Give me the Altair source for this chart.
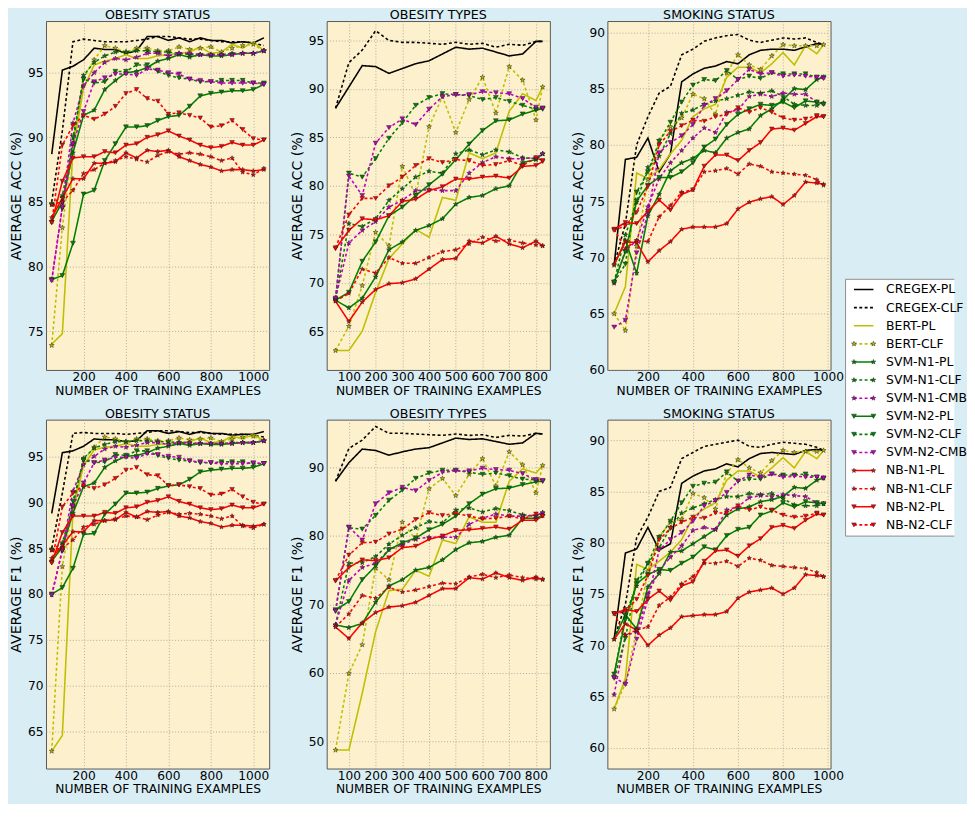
import altair as alt
import pandas as pd

SERIES = ["CREGEX-PL", "CREGEX-CLF", "BERT-PL", "BERT-CLF",
          "SVM-N1-PL", "SVM-N1-CLF", "SVM-N1-CMB",
          "SVM-N2-PL", "SVM-N2-CLF", "SVM-N2-CMB",
          "NB-N1-PL", "NB-N1-CLF", "NB-N2-PL", "NB-N2-CLF"]

X_STATUS = [50, 100, 150, 200, 250, 300, 350, 400, 450, 500, 550, 600, 650, 700,
            750, 800, 850, 900, 950, 1000, 1050]
X_TYPES = [50, 100, 150, 200, 250, 300, 350, 400, 450, 500, 550, 600, 650, 700,
           750, 800, 825]
X_SMOKING = [50, 100, 150, 200, 250, 300, 350, 400, 450, 500, 550, 600, 650, 700,
             750, 800, 850, 900, 950, 980]

ACC_STATUS = {
    "CREGEX-PL": [88.7, 95.2, 95.5, 96.0, 96.9, 96.8, 96.8, 96.5, 96.7, 97.8, 97.8, 97.5, 97.7, 97.4, 97.7, 97.5, 97.5, 97.3, 97.4, 97.3, 97.7],
    "CREGEX-CLF": [85.0, 90.5, 97.4, 97.6, 97.5, 97.4, 97.4, 97.4, 97.5, 97.6, 97.8, 97.8, 97.7, 97.6, 97.6, 97.5, 97.4, 97.4, 97.4, 97.3, 97.1],
    "BERT-PL": [74.0, 74.8, 89.0, 93.8, 95.6, 95.9, 96.1, 96.4, 96.1, 96.1, 96.3, 96.4, 96.5, 96.6, 97.0, 96.5, 96.6, 97.2, 96.9, 97.4, 96.7],
    "BERT-CLF": [73.9, 83.0, 89.5, 94.6, 96.0, 97.1, 96.9, 96.6, 96.9, 96.9, 96.7, 96.7, 97.0, 96.8, 96.9, 97.0, 96.6, 96.9, 97.1, 97.2, 96.7],
    "SVM-N1-PL": [83.5, 85.0, 88.8, 91.7, 92.1, 93.7, 94.4, 95.0, 95.1, 95.4, 95.9, 96.1, 96.4, 96.2, 96.4, 96.3, 96.3, 96.4, 96.5, 96.5, 96.7],
    "SVM-N1-CLF": [84.8, 85.5, 89.5, 94.8, 95.8, 96.3, 96.6, 96.6, 96.7, 96.7, 96.6, 96.6, 96.5, 96.4, 96.4, 96.4, 96.4, 96.5, 96.5, 96.5, 96.7],
    "SVM-N1-CMB": [79.0, 84.6, 91.1, 94.0, 95.0, 95.8, 96.1, 96.0, 96.2, 96.5, 96.5, 96.3, 96.5, 96.5, 96.4, 96.4, 96.4, 96.4, 96.5, 96.5, 96.7],
    "SVM-N2-PL": [79.0, 79.3, 81.8, 85.6, 85.9, 88.2, 89.5, 90.8, 90.8, 90.9, 91.3, 91.6, 91.7, 92.4, 93.2, 93.4, 93.5, 93.6, 93.6, 93.7, 94.1],
    "SVM-N2-CLF": [84.8, 84.5, 90.0, 94.5, 94.2, 94.3, 95.1, 95.1, 95.6, 95.6, 95.1, 94.8, 94.6, 94.5, 94.3, 94.3, 94.4, 94.4, 94.4, 94.2, 94.2],
    "SVM-N2-CMB": [78.9, 84.6, 89.5, 92.0, 94.3, 94.6, 94.9, 94.9, 94.8, 95.3, 95.2, 95.0, 94.9, 94.5, 94.4, 94.3, 94.2, 94.2, 94.2, 94.2, 94.1],
    "NB-N1-PL": [83.8, 85.3, 86.8, 86.8, 88.0, 88.0, 88.1, 88.8, 88.4, 89.0, 88.9, 89.0, 88.5, 88.2, 87.9, 87.7, 87.4, 87.5, 87.5, 87.4, 87.5],
    "NB-N1-CLF": [84.8, 85.0, 85.9, 87.2, 87.5, 88.0, 88.2, 88.5, 88.3, 88.1, 88.6, 88.9, 88.7, 88.8, 88.7, 88.5, 88.2, 88.4, 87.3, 87.1, 87.6],
    "NB-N2-PL": [83.4, 86.6, 88.4, 88.5, 88.5, 88.9, 88.8, 89.4, 89.5, 90.0, 90.2, 90.5, 90.1, 89.8, 89.4, 89.2, 89.3, 89.6, 89.4, 89.4, 89.8],
    "NB-N2-CLF": [83.4, 89.4, 90.9, 91.7, 91.4, 91.8, 92.4, 93.4, 93.7, 93.0, 92.8, 91.8, 91.9, 91.7, 91.5, 90.8, 90.9, 91.3, 90.6, 89.9, 89.8],
}

F1_STATUS = {
    "CREGEX-PL": [88.8, 95.4, 95.6, 96.1, 96.9, 96.8, 96.8, 96.6, 96.7, 97.8, 97.8, 97.5, 97.7, 97.4, 97.7, 97.5, 97.5, 97.3, 97.4, 97.4, 97.7],
    "CREGEX-CLF": [85.0, 91.0, 97.5, 97.6, 97.5, 97.5, 97.5, 97.4, 97.5, 97.6, 97.8, 97.8, 97.7, 97.6, 97.6, 97.5, 97.4, 97.4, 97.4, 97.3, 97.1],
    "BERT-PL": [62.9, 64.6, 89.0, 94.0, 95.7, 96.0, 96.1, 96.4, 96.1, 96.1, 96.3, 96.4, 96.5, 96.6, 97.0, 96.5, 96.6, 97.2, 96.9, 97.4, 96.7],
    "BERT-CLF": [62.9, 83.0, 89.5, 94.6, 96.0, 97.1, 96.9, 96.6, 96.9, 96.9, 96.7, 96.7, 97.0, 96.8, 96.9, 97.0, 96.6, 96.9, 97.1, 97.2, 96.7],
    "SVM-N1-PL": [83.6, 85.1, 88.8, 91.7, 92.1, 93.8, 94.5, 95.0, 95.1, 95.4, 95.9, 96.1, 96.4, 96.2, 96.4, 96.3, 96.3, 96.4, 96.5, 96.5, 96.7],
    "SVM-N1-CLF": [84.8, 85.6, 89.6, 94.8, 95.9, 96.3, 96.6, 96.6, 96.7, 96.7, 96.6, 96.6, 96.5, 96.4, 96.4, 96.4, 96.4, 96.5, 96.5, 96.5, 96.7],
    "SVM-N1-CMB": [79.9, 84.8, 91.2, 94.1, 95.0, 95.8, 96.1, 96.0, 96.2, 96.5, 96.5, 96.3, 96.5, 96.5, 96.4, 96.4, 96.4, 96.4, 96.5, 96.5, 96.7],
    "SVM-N2-PL": [80.0, 80.7, 82.8, 86.5, 86.6, 88.7, 89.8, 91.0, 91.0, 91.1, 91.5, 91.8, 91.9, 92.5, 93.3, 93.5, 93.6, 93.7, 93.7, 93.8, 94.2],
    "SVM-N2-CLF": [84.8, 84.7, 90.1, 94.6, 94.3, 94.4, 95.2, 95.1, 95.6, 95.6, 95.1, 94.8, 94.6, 94.5, 94.3, 94.3, 94.4, 94.4, 94.4, 94.2, 94.2],
    "SVM-N2-CMB": [79.9, 84.8, 89.6, 92.1, 94.3, 94.6, 94.9, 94.9, 94.8, 95.3, 95.2, 95.0, 94.9, 94.5, 94.4, 94.3, 94.2, 94.2, 94.2, 94.3, 94.2],
    "NB-N1-PL": [83.9, 85.3, 86.8, 86.8, 88.0, 88.0, 88.1, 88.9, 88.4, 89.0, 88.9, 89.0, 88.5, 88.3, 87.9, 87.7, 87.3, 87.5, 87.5, 87.4, 87.6],
    "NB-N1-CLF": [84.8, 85.0, 85.9, 87.3, 87.6, 88.0, 88.2, 88.5, 88.4, 88.1, 88.6, 88.9, 88.7, 88.8, 88.7, 88.5, 88.2, 88.5, 87.4, 87.2, 87.6],
    "NB-N2-PL": [83.4, 86.7, 88.5, 88.5, 88.5, 88.9, 88.8, 89.4, 89.5, 90.0, 90.2, 90.6, 90.1, 89.8, 89.4, 89.2, 89.3, 89.7, 89.4, 89.4, 89.8],
    "NB-N2-CLF": [83.4, 89.5, 91.0, 91.8, 91.5, 91.9, 92.6, 93.5, 93.8, 93.0, 92.9, 91.8, 91.9, 91.7, 91.5, 90.8, 90.9, 91.4, 90.6, 90.0, 89.8],
}

ACC_TYPES = {
    "CREGEX-PL": [88.0, 90.2, 92.4, 92.3, 91.6, 92.1, 92.6, 92.9, 93.6, 94.3, 94.1, 94.2, 93.8, 93.4, 93.6, 94.9, 94.9],
    "CREGEX-CLF": [88.0, 92.7, 94.0, 96.0, 95.0, 94.8, 94.8, 94.7, 94.6, 94.8, 94.6, 94.7, 94.3, 94.6, 94.5, 94.9, 94.9],
    "BERT-PL": [63.0, 63.0, 65.0, 69.0, 72.5, 74.0, 75.5, 74.7, 78.8, 78.5, 83.4, 82.8, 83.4, 87.7, 89.5, 88.8, 90.2],
    "BERT-CLF": [63.0, 65.5, 69.7, 75.2, 73.8, 82.0, 79.0, 86.1, 89.2, 85.5, 88.9, 91.2, 87.5, 92.3, 90.9, 86.8, 90.2],
    "SVM-N1-PL": [68.2, 67.4, 68.4, 70.6, 73.4, 74.2, 75.4, 75.9, 76.6, 78.1, 78.8, 79.0, 79.7, 80.0, 82.4, 82.7, 83.3],
    "SVM-N1-CLF": [68.3, 76.1, 75.8, 76.6, 78.5, 79.7, 80.9, 81.5, 81.3, 83.3, 83.7, 83.2, 83.7, 83.5, 82.9, 82.8, 83.3],
    "SVM-N1-CMB": [68.4, 74.1, 75.4, 76.3, 77.8, 78.5, 79.5, 79.6, 79.5, 79.5, 81.3, 82.4, 83.0, 82.8, 82.8, 82.9, 83.3],
    "SVM-N2-PL": [68.2, 69.0, 72.2, 74.2, 76.9, 77.8, 79.0, 80.1, 81.2, 82.7, 84.3, 85.7, 86.7, 86.8, 87.4, 87.8, 88.0],
    "SVM-N2-CLF": [68.3, 81.3, 80.9, 82.8, 84.9, 86.5, 88.3, 89.1, 89.5, 89.4, 89.3, 88.9, 89.1, 88.7, 88.3, 87.9, 87.9],
    "SVM-N2-CMB": [68.4, 81.0, 79.0, 84.4, 86.0, 86.9, 86.3, 87.9, 89.2, 89.4, 89.4, 89.7, 89.6, 89.5, 89.0, 88.1, 88.0],
    "NB-N1-PL": [68.1, 66.0, 68.0, 69.3, 69.9, 70.0, 70.4, 71.4, 72.4, 72.5, 74.3, 74.1, 74.8, 74.0, 73.6, 74.3, 73.8],
    "NB-N1-CLF": [68.1, 68.9, 71.4, 71.0, 72.6, 72.0, 72.0, 72.6, 73.2, 73.4, 74.0, 74.7, 74.3, 74.4, 74.1, 73.9, 73.8],
    "NB-N2-PL": [73.5, 75.4, 76.6, 76.5, 76.9, 78.4, 78.6, 79.5, 79.9, 80.7, 80.7, 80.9, 81.0, 80.8, 82.0, 82.1, 82.5],
    "NB-N2-CLF": [73.6, 77.0, 78.7, 78.7, 80.0, 80.9, 82.1, 82.8, 82.4, 82.7, 82.6, 82.1, 82.2, 82.6, 82.1, 82.9, 82.6],
}

F1_TYPES = {
    "CREGEX-PL": [88.0, 90.7, 92.7, 92.5, 91.8, 92.3, 92.7, 92.9, 93.6, 94.3, 94.1, 94.2, 93.8, 93.4, 93.6, 95.0, 94.9],
    "CREGEX-CLF": [88.0, 92.8, 94.0, 96.0, 95.0, 95.0, 94.9, 94.8, 94.7, 94.9, 94.7, 94.8, 94.4, 94.7, 94.6, 95.0, 94.9],
    "BERT-PL": [48.7, 48.7, 57.0, 66.0, 72.0, 72.2, 75.0, 74.1, 79.4, 78.9, 82.8, 82.0, 82.0, 88.0, 89.8, 89.2, 90.3],
    "BERT-CLF": [48.7, 59.9, 64.1, 75.3, 73.6, 82.0, 79.5, 86.9, 88.4, 85.9, 89.0, 91.3, 87.3, 92.3, 90.4, 86.3, 90.3],
    "SVM-N1-PL": [67.0, 66.6, 67.2, 70.3, 72.7, 73.6, 75.0, 75.4, 76.5, 78.0, 79.0, 79.2, 79.8, 80.1, 82.6, 82.6, 83.0],
    "SVM-N1-CLF": [67.0, 76.0, 76.1, 77.0, 78.8, 80.1, 81.2, 82.1, 81.9, 83.8, 84.1, 83.5, 84.0, 83.7, 83.1, 82.9, 83.4],
    "SVM-N1-CMB": [67.0, 73.5, 75.4, 76.0, 78.0, 78.7, 79.6, 79.8, 79.8, 79.8, 81.7, 82.6, 83.2, 82.9, 82.9, 83.0, 83.4],
    "SVM-N2-PL": [69.2, 70.4, 73.6, 75.6, 78.0, 79.0, 79.7, 80.9, 81.7, 82.9, 84.7, 86.1, 86.9, 87.0, 87.5, 87.9, 88.0],
    "SVM-N2-CLF": [69.0, 81.2, 81.0, 83.0, 85.2, 86.7, 88.4, 89.2, 89.6, 89.6, 89.3, 89.0, 89.2, 88.8, 88.3, 88.2, 88.0],
    "SVM-N2-CMB": [69.0, 81.3, 79.4, 84.7, 86.3, 87.1, 86.6, 88.1, 89.3, 89.5, 89.5, 89.9, 89.7, 89.6, 89.1, 88.2, 88.1],
    "NB-N1-PL": [66.7, 65.0, 67.3, 68.8, 69.6, 69.8, 70.3, 71.3, 72.3, 72.3, 73.9, 73.7, 74.6, 73.9, 73.5, 74.0, 73.6],
    "NB-N1-CLF": [66.7, 68.6, 71.3, 70.9, 72.5, 71.8, 72.1, 72.6, 73.1, 73.0, 74.0, 74.4, 73.9, 74.3, 73.9, 73.7, 73.7],
    "NB-N2-PL": [73.4, 75.4, 76.5, 76.4, 76.8, 78.3, 78.5, 79.5, 80.0, 80.8, 80.9, 81.1, 81.3, 81.0, 82.3, 82.3, 82.9],
    "NB-N2-CLF": [73.5, 77.2, 79.0, 79.1, 80.3, 81.0, 82.4, 83.4, 83.0, 83.3, 82.9, 82.5, 82.6, 82.9, 82.5, 83.2, 82.9],
}

ACC_SMOKING = {
    "CREGEX-PL": [69.3, 78.7, 78.9, 80.6, 77.6, 79.2, 85.6, 86.3, 86.8, 87.0, 87.4, 87.2, 88.0, 88.4, 88.5, 88.5, 88.4, 88.7, 89.0, 88.9],
    "CREGEX-CLF": [69.3, 73.0, 80.0, 82.5, 84.6, 85.2, 88.0, 88.5, 89.2, 89.5, 89.7, 89.8, 89.3, 89.1, 89.3, 89.5, 89.4, 89.5, 89.1, 88.9],
    "BERT-PL": [65.0, 67.4, 77.5, 77.0, 77.8, 79.2, 80.4, 82.5, 83.2, 83.6, 86.0, 86.9, 86.9, 86.4, 87.2, 88.2, 87.1, 88.8, 88.1, 88.9],
    "BERT-CLF": [65.0, 63.5, 71.0, 76.9, 80.4, 81.6, 82.4, 84.5, 84.1, 82.7, 86.4, 88.0, 87.1, 86.7, 87.9, 88.9, 88.8, 88.8, 88.8, 88.9],
    "SVM-N1-PL": [69.3, 71.5, 68.6, 73.7, 75.6, 77.7, 78.4, 78.8, 79.5, 79.3, 80.6, 81.1, 81.4, 82.6, 83.2, 84.0, 85.0, 84.9, 85.8, 86.0],
    "SVM-N1-CLF": [67.8, 72.0, 74.9, 78.0, 79.0, 81.0, 82.8, 83.1, 83.6, 83.9, 84.1, 84.4, 84.7, 84.6, 84.8, 84.3, 83.6, 83.5, 83.5, 83.7],
    "SVM-N1-CMB": [67.7, 70.6, 71.5, 74.5, 77.0, 78.4, 79.5, 80.6, 81.5, 81.1, 82.9, 83.1, 84.3, 84.5, 84.3, 84.6, 84.5, 84.5, 83.8, 83.7],
    "SVM-N2-PL": [67.8, 70.5, 75.0, 76.4, 77.1, 77.1, 77.6, 78.4, 79.8, 80.5, 81.8, 82.7, 83.2, 83.6, 83.5, 83.8, 83.3, 83.9, 83.8, 83.6],
    "SVM-N2-CLF": [67.8, 69.4, 75.8, 77.6, 80.3, 82.0, 83.8, 85.3, 85.8, 85.7, 86.6, 85.8, 86.1, 85.9, 86.4, 86.3, 86.3, 86.3, 86.0, 86.0],
    "SVM-N2-CMB": [63.8, 64.4, 70.4, 73.9, 79.3, 80.2, 80.8, 81.8, 83.5, 84.1, 84.8, 85.8, 86.7, 86.3, 86.4, 86.1, 86.2, 86.1, 86.0, 85.9],
    "NB-N1-PL": [69.4, 71.4, 71.3, 69.6, 70.6, 71.4, 72.5, 72.7, 72.7, 72.7, 73.0, 74.3, 74.9, 75.2, 75.4, 74.7, 75.5, 76.7, 76.6, 76.5],
    "NB-N1-CLF": [72.5, 70.8, 71.5, 71.4, 73.6, 74.6, 75.8, 76.0, 77.6, 77.7, 77.9, 77.4, 78.3, 78.1, 77.6, 77.5, 77.4, 77.3, 76.9, 76.4],
    "NB-N2-PL": [72.5, 73.1, 73.0, 74.1, 75.1, 74.2, 75.6, 76.0, 78.1, 79.1, 79.1, 78.6, 79.5, 80.2, 81.4, 81.5, 81.3, 81.9, 82.5, 82.5],
    "NB-N2-CLF": [72.4, 72.8, 74.0, 76.3, 80.0, 81.2, 81.7, 82.2, 82.1, 82.5, 82.7, 83.3, 82.9, 83.3, 82.9, 82.4, 82.2, 82.3, 82.6, 82.5],
}

F1_SMOKING = {
    "CREGEX-PL": [70.6, 79.0, 79.4, 81.5, 79.3, 79.9, 85.8, 86.5, 87.0, 87.2, 87.7, 87.4, 88.2, 88.7, 88.8, 88.7, 88.6, 89.0, 89.1, 89.0],
    "CREGEX-CLF": [70.6, 74.0, 80.5, 82.5, 85.0, 85.4, 88.2, 88.8, 89.4, 89.6, 89.8, 90.0, 89.4, 89.3, 89.6, 89.8, 89.7, 89.6, 89.3, 89.0],
    "BERT-PL": [63.8, 66.8, 77.9, 77.4, 78.2, 79.1, 80.3, 82.5, 83.3, 83.9, 86.1, 87.0, 87.0, 86.4, 87.3, 88.3, 87.3, 88.9, 88.2, 89.0],
    "BERT-CLF": [63.8, 66.3, 71.5, 77.2, 80.6, 82.0, 82.3, 84.8, 84.4, 83.3, 86.8, 88.1, 87.3, 86.8, 88.0, 89.0, 88.8, 88.9, 88.9, 89.0],
    "SVM-N1-PL": [70.6, 73.0, 71.6, 75.7, 77.0, 79.1, 79.2, 79.9, 80.6, 81.3, 82.7, 83.3, 83.5, 84.0, 84.2, 84.5, 85.4, 85.3, 86.1, 86.3],
    "SVM-N1-CLF": [67.0, 73.0, 75.8, 78.0, 79.5, 81.5, 82.9, 83.4, 83.8, 84.2, 84.5, 84.5, 84.8, 84.7, 84.8, 84.3, 83.7, 83.6, 83.6, 83.8],
    "SVM-N1-CMB": [65.2, 71.0, 71.3, 75.0, 77.3, 78.6, 79.7, 81.2, 81.5, 81.3, 83.2, 83.5, 84.4, 84.6, 84.5, 84.7, 84.6, 84.5, 83.9, 83.8],
    "SVM-N2-PL": [67.2, 72.5, 76.0, 76.9, 77.4, 77.3, 78.0, 78.6, 79.6, 79.3, 80.7, 81.3, 81.5, 82.7, 83.1, 83.9, 83.5, 84.0, 83.9, 83.8],
    "SVM-N2-CLF": [66.8, 70.7, 76.3, 78.0, 80.5, 82.1, 83.9, 85.5, 85.8, 85.9, 86.9, 86.0, 86.2, 86.2, 86.7, 86.6, 86.6, 86.7, 86.4, 86.3],
    "SVM-N2-CMB": [66.9, 66.2, 70.6, 74.5, 79.3, 80.3, 81.0, 82.1, 83.6, 84.1, 84.9, 86.0, 86.6, 86.4, 86.7, 86.4, 86.5, 86.4, 86.4, 86.3],
    "NB-N1-PL": [70.6, 72.1, 71.5, 70.0, 71.0, 71.7, 72.8, 72.9, 73.0, 73.0, 73.3, 74.6, 75.2, 75.4, 75.6, 75.0, 75.6, 76.9, 76.8, 76.7],
    "NB-N1-CLF": [73.1, 71.0, 71.5, 71.8, 73.9, 74.7, 76.0, 76.7, 78.0, 78.0, 78.2, 77.7, 78.5, 78.3, 77.8, 77.7, 77.6, 77.5, 77.1, 76.7],
    "NB-N2-PL": [73.1, 73.5, 73.3, 74.5, 75.3, 74.4, 75.8, 76.2, 78.2, 79.2, 79.3, 78.7, 79.7, 80.4, 81.5, 81.7, 81.4, 82.2, 82.8, 82.7],
    "NB-N2-CLF": [73.1, 73.3, 74.5, 76.8, 80.3, 81.4, 82.0, 82.5, 82.4, 82.9, 82.9, 83.6, 83.2, 83.5, 83.2, 82.7, 82.5, 82.6, 82.9, 82.7],
}

# ---- styles ----
BLACK, OLIVE, GREEN, MAGENTA, RED = "#000000", "#bfbf00", "#008000", "#bf00bf", "#ff0000"
COLORS = [BLACK, BLACK, OLIVE, OLIVE, GREEN, GREEN, MAGENTA, GREEN, GREEN, MAGENTA,
          RED, RED, RED, RED]
SOLID, DASH = [1, 0], [3, 2.5]
DASHES = [SOLID, DASH, SOLID, DASH, SOLID, DASH, DASH, SOLID, DASH, DASH,
          SOLID, DASH, SOLID, DASH]
STAR = ("M0,-1L0.235,-0.324L0.951,-0.309L0.380,0.124L0.588,0.809L0,0.4"
        "L-0.588,0.809L-0.380,0.124L-0.951,-0.309L-0.235,-0.324Z")
TRI = "triangle-down"
MARKER_SERIES = ["BERT-CLF", "SVM-N1-PL", "SVM-N1-CLF", "SVM-N1-CMB",
                 "SVM-N2-PL", "SVM-N2-CLF", "SVM-N2-CMB",
                 "NB-N1-PL", "NB-N1-CLF", "NB-N2-PL", "NB-N2-CLF"]
MARKER_SHAPES = [STAR, STAR, STAR, STAR, TRI, TRI, TRI, STAR, STAR, TRI, TRI]
MARKER_SIZES = [28, 22, 22, 22, 34, 34, 34, 22, 22, 34, 34]

PAGE_BG = "#d9edf4"
PLOT_BG = "#fdf0cc"
FONT = "DejaVu Sans"
PW, PH = 229, 358


def panel(data, xs, title, ytitle, ydom, yticks, xdom, xticks):
    rows = [{"x": x, "y": v, "series": s}
            for s in SERIES for x, v in zip(xs, data[s])]
    df = pd.DataFrame(rows)
    base = alt.Chart(df)
    x = alt.X("x:Q", scale=alt.Scale(domain=xdom, nice=False, zero=False),
              axis=alt.Axis(values=xticks, format="d",
                            title="NUMBER OF TRAINING EXAMPLES"))
    y = alt.Y("y:Q", scale=alt.Scale(domain=ydom, nice=False, zero=False),
              axis=alt.Axis(values=yticks, format="d", title=ytitle))
    color = alt.Color("series:N", scale=alt.Scale(domain=SERIES, range=COLORS),
                      legend=None)
    dash = alt.StrokeDash("series:N", scale=alt.Scale(domain=SERIES, range=DASHES),
                          legend=None)
    lines = base.mark_line(strokeWidth=1.6).encode(x=x, y=y, color=color,
                                                    strokeDash=dash)
    pts = base.transform_filter(
        alt.FieldOneOfPredicate(field="series", oneOf=MARKER_SERIES)
    ).mark_point(filled=True, opacity=1, stroke="#222222", strokeWidth=0.5).encode(
        x=x, y=y,
        color=alt.Color("series:N", scale=alt.Scale(domain=SERIES, range=COLORS),
                        legend=None),
        shape=alt.Shape("series:N",
                        scale=alt.Scale(domain=MARKER_SERIES, range=MARKER_SHAPES),
                        legend=None),
        size=alt.Size("series:N",
                      scale=alt.Scale(domain=MARKER_SERIES, range=MARKER_SIZES),
                      legend=None),
    )
    return alt.layer(lines, pts).properties(
        width=PW, height=PH,
        title=alt.TitleParams(title, fontSize=13, font=FONT, fontWeight="normal",
                              offset=-1, color="black"),
    )


Y_ACC = "AVERAGE ACC (%)"
Y_F1 = "AVERAGE F1 (%)"
p1 = panel(ACC_STATUS, X_STATUS, "OBESITY STATUS", Y_ACC, [72, 99],
           [75, 80, 85, 90, 95], [23, 1075], [200, 400, 600, 800, 1000])
p2 = panel(ACC_TYPES, X_TYPES, "OBESITY TYPES", Y_ACC, [61, 97],
           [65, 70, 75, 80, 85, 90, 95], [17, 852], [100, 200, 300, 400, 500, 600, 700, 800])
p3 = panel(ACC_SMOKING, X_SMOKING, "SMOKING STATUS", Y_ACC, [60, 91],
           [60, 65, 70, 75, 80, 85, 90], [20, 1011], [200, 400, 600, 800, 1000])
p4 = panel(F1_STATUS, X_STATUS, "OBESITY STATUS", Y_F1, [61, 99],
           [65, 70, 75, 80, 85, 90, 95], [23, 1075], [200, 400, 600, 800, 1000])
p5 = panel(F1_TYPES, X_TYPES, "OBESITY TYPES", Y_F1, [46, 97],
           [50, 60, 70, 80, 90], [17, 852], [100, 200, 300, 400, 500, 600, 700, 800])
p6 = panel(F1_SMOKING, X_SMOKING, "SMOKING STATUS", Y_F1, [58, 92],
           [60, 65, 70, 75, 80, 85, 90], [20, 1011], [200, 400, 600, 800, 1000])

grid = alt.vconcat(
    alt.hconcat(p1, p2, p3, spacing=19),
    alt.hconcat(p4, p5, p6, spacing=19),
    spacing=9,
)

# ---- custom legend ----
LW, LH = 113, 600
BOX_L, BOX_T, BOX_B = 1.4, 265, 528.5
leg_df = pd.DataFrame({"series": SERIES})
leg_y = alt.Y("series:N", scale=alt.Scale(type="point", domain=SERIES,
                                          range=[275.5, 517], padding=0), axis=None)
leg_color = alt.Color("series:N", scale=alt.Scale(domain=SERIES, range=COLORS),
                      legend=None)
leg_base = alt.Chart(leg_df)
one = pd.DataFrame({"k": [0]})
box = alt.Chart(one).mark_rect(fill="white").encode(
    x=alt.value(BOX_L), x2=alt.value(LW), y=alt.value(BOX_T), y2=alt.value(BOX_B))
edges = alt.Chart(one).mark_rule(color="#8c8c8c", strokeWidth=1)
edge_top = edges.encode(x=alt.value(BOX_L), x2=alt.value(LW), y=alt.value(BOX_T))
edge_bot = edges.encode(x=alt.value(BOX_L), x2=alt.value(LW), y=alt.value(BOX_B))
edge_left = edges.encode(x=alt.value(BOX_L), y=alt.value(BOX_T), y2=alt.value(BOX_B))
leg_lines = leg_base.mark_rule(strokeWidth=1.6).encode(
    x=alt.value(10), x2=alt.value(30), y=leg_y, color=leg_color,
    strokeDash=alt.StrokeDash("series:N", scale=alt.Scale(domain=SERIES, range=DASHES),
                              legend=None))
leg_pts_base = leg_base.transform_filter(
    alt.FieldOneOfPredicate(field="series", oneOf=MARKER_SERIES)
).mark_point(filled=True, opacity=1, stroke="#222222", strokeWidth=0.5)
leg_enc = dict(
    y=leg_y, color=leg_color,
    shape=alt.Shape("series:N", scale=alt.Scale(domain=MARKER_SERIES, range=MARKER_SHAPES),
                    legend=None),
    size=alt.Size("series:N", scale=alt.Scale(domain=MARKER_SERIES, range=MARKER_SIZES),
                  legend=None),
)
leg_pts_l = leg_pts_base.encode(x=alt.value(10), **leg_enc)
leg_pts_r = leg_pts_base.encode(x=alt.value(30), **leg_enc)
leg_text = leg_base.mark_text(align="left", baseline="middle", fontSize=12.7,
                              font=FONT, color="black").encode(
    x=alt.value(43), y=leg_y, text="series:N")
legend = alt.layer(box, edge_top, edge_bot, edge_left, leg_lines, leg_pts_l,
                   leg_pts_r, leg_text).properties(
    width=LW, height=LH,
    view=alt.ViewBackground(fill=PAGE_BG, stroke=PAGE_BG, strokeWidth=0),
).resolve_scale(
    color="independent", shape="independent", size="independent", strokeDash="independent")

chart = alt.hconcat(grid, legend, spacing=0).properties(
    background=PAGE_BG,
    padding={"left": 0, "top": -10, "right": 0, "bottom": -3},
).configure_view(
    fill=PLOT_BG, stroke="#555555", strokeWidth=1
).configure_axis(
    labelFont=FONT, titleFont=FONT, labelFontSize=12.5, titleFontSize=13,
    titleFontWeight="normal", labelColor="black", titleColor="black",
    grid=True, gridColor="#999999", gridDash=[1, 2], gridOpacity=0.8,
    ticks=False, domain=False,
).configure_axisY(titlePadding=4, labelPadding=3, titleFontSize=14.5).configure_axisX(
    titlePadding=1.5, labelPadding=1, titleFontSize=12.6
)

chart.save("out.html", embed_options={"renderer": "svg", "actions": False})
